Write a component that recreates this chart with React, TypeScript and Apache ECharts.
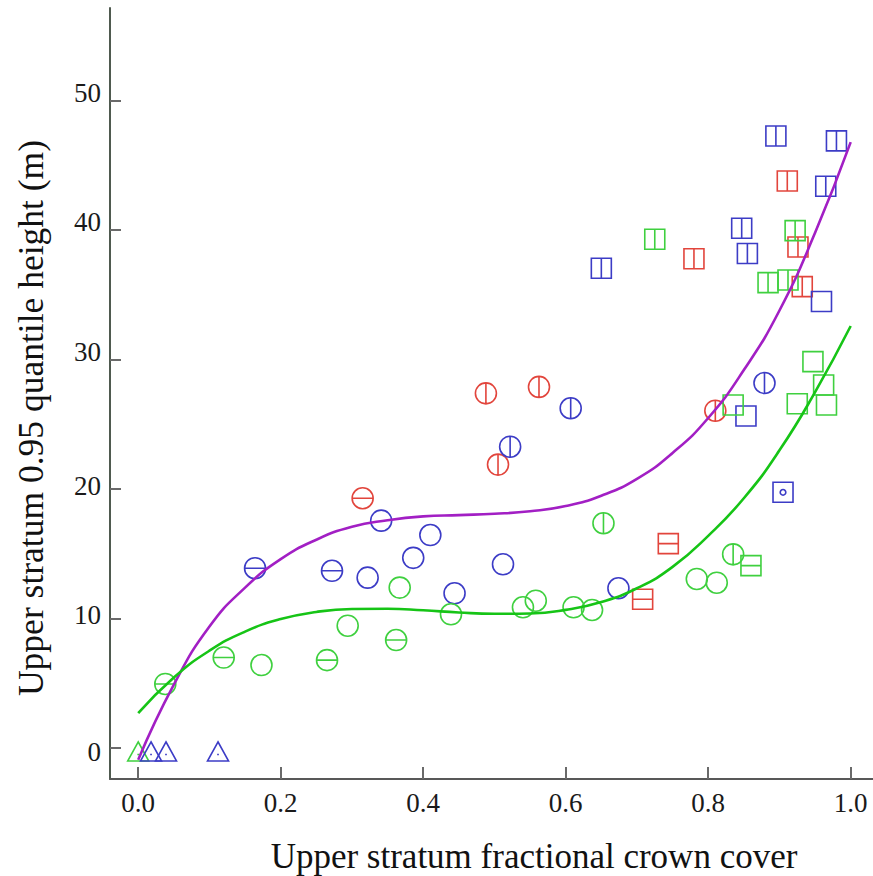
import React, { useEffect, useRef } from "react";
import * as echarts from "echarts";

// ---- tick labels ----
const xTicks = [0, 0.2, 0.4, 0.6, 0.8, 1.0];
const yTicks = [0, 10, 20, 30, 40, 50];

// ---- point data [fractional crown cover, 0.95 quantile height] ----
// circle with horizontal bar
const circHRed = [[0.315, 19.3]];
const circHBlue = [[0.164, 13.9], [0.272, 13.7]];
const circHGreen = [[0.038, 4.96], [0.12, 7.0], [0.265, 6.8], [0.362, 8.35]];
// circle with vertical bar
const circVRed = [[0.488, 27.4], [0.5625, 27.9], [0.505, 21.9], [0.81, 26.06]];
const circVBlue = [[0.607, 26.25], [0.522, 23.28], [0.879, 28.2]];
const circVGreen = [[0.653, 17.37], [0.835, 14.97]];
// plain circle
const circBlue = [[0.341, 17.57], [0.41, 16.46], [0.386, 14.7], [0.322, 13.17], [0.444, 11.96], [0.512, 14.2], [0.674, 12.35]];
const circGreen = [[0.367, 12.4], [0.439, 10.34], [0.294, 9.46], [0.173, 6.42], [0.54, 10.88], [0.558, 11.39], [0.611, 10.88], [0.637, 10.67], [0.784, 13.07], [0.812, 12.78]];
// square with vertical bar
const sqVBlue = [[0.895, 47.27], [0.98, 46.9], [0.965, 43.4], [0.847, 40.15], [0.855, 38.2], [0.65, 37.06]];
const sqVRed = [[0.911, 43.8], [0.78, 37.8], [0.926, 38.7], [0.932, 35.64]];
const sqVGreen = [[0.725, 39.3], [0.922, 39.97], [0.884, 35.95], [0.912, 36.15]];
// square with horizontal bar
const sqHRed = [[0.744, 15.8], [0.708, 11.5]];
const sqHGreen = [[0.86, 14.1]];
// plain square
const sqBlue = [[0.853, 25.65], [0.959, 34.5]];
const sqGreen = [[0.835, 26.5], [0.925, 26.6], [0.966, 26.5], [0.962, 28.05], [0.947, 29.85]];
// square with small circle
const sqDotBlue = [[0.905, 19.76]];
// triangle with dot
const triGreen = [[0.0, -0.25]];
const triBlue = [[0.018, -0.25], [0.039, -0.25], [0.112, -0.25]];

// ---- fitted curves ----
const purpleCurve = [
  [0.0, -0.9], [0.05, 4.9], [0.1, 9.4], [0.15, 12.4], [0.2, 14.6], [0.25, 16.1], [0.3, 17.1],
  [0.35, 17.6], [0.4, 17.9], [0.45, 18.0], [0.5, 18.1], [0.55, 18.3], [0.6, 18.7], [0.65, 19.5],
  [0.7, 20.8], [0.75, 22.8], [0.8, 25.5], [0.85, 29.2], [0.9, 33.8], [0.95, 39.8], [1.0, 46.8],
];
const greenCurve = [
  [0.0, 2.7], [0.05, 5.46], [0.1, 7.53], [0.15, 9.0], [0.2, 9.97], [0.25, 10.52], [0.3, 10.75],
  [0.35, 10.77], [0.4, 10.65], [0.45, 10.48], [0.5, 10.38], [0.55, 10.4], [0.6, 10.68], [0.65, 11.29],
  [0.7, 12.35], [0.75, 14.0], [0.8, 16.4], [0.85, 19.3], [0.9, 23.0], [0.95, 27.5], [1.0, 32.6],
];

const RED = "#e2453c";
const BLUE = "#3c3cc6";
const GREEN = "#3fd03f";
const PURPLE = "#a21fc4";
const CURVE_GREEN = "#16c416";

const CIRCLE = "M10,0 A10,10 0 1,1 10,20 A10,10 0 1,1 10,0 Z";
const SQUARE = "M0,0 L20,0 L20,20 L0,20 Z";
const SYM = {
  circH: "path://" + CIRCLE + " M0,10 L20,10",
  circV: "path://" + CIRCLE + " M10,0 L10,20",
  circ: "path://" + CIRCLE,
  sqV: "path://" + SQUARE + " M10,0 L10,20",
  sqH: "path://" + SQUARE + " M0,10 L20,10",
  sq: "path://" + SQUARE,
  sqDot: "path://" + SQUARE + " M10,7.2 A2.8,2.8 0 1,1 10,12.8 A2.8,2.8 0 1,1 10,7.2 Z",
  tri: "path://M10,0 L20,18 L0,18 Z M9.2,12 L10.8,12",
};

const yShift: Record<string, number> = { "0": -4, "10": 4, "20": 3, "30": 8, "40": 8, "50": 8 };

function scatter(symbol: string, color: string, data: number[][], size: number | number[]) {
  return {
    type: "scatter",
    data,
    symbol,
    symbolSize: size,
    itemStyle: { color: "rgba(0,0,0,0)", borderColor: color, borderWidth: 1.6, opacity: 1 },
    z: 2,
    silent: true,
  };
}

function curve(data: number[][], color: string) {
  return {
    type: "line",
    data,
    smooth: 0.5,
    showSymbol: false,
    symbol: "none",
    lineStyle: { color, width: 2.6 },
    z: 3,
    silent: true,
  };
}

export default function App() {
  const ref = useRef<HTMLDivElement>(null);
  useEffect(() => {
    if (!ref.current) return;
    const chart = echarts.init(ref.current, null, { renderer: "svg" });
    const rich: Record<string, any> = {};
    yTicks.forEach((v) => {
      const s = yShift[String(v)] || 0;
      rich["t" + v] = {
        fontFamily: "Liberation Serif",
        fontSize: 27,
        color: "#1a1a1a",
        padding: s >= 0 ? [0, 0, 2 * s, 0] : [-2 * s, 0, 0, 0],
      };
    });
    const font = "Liberation Serif";
    chart.setOption({
      animation: false,
      backgroundColor: "#ffffff",
      grid: { left: 110, right: 0, top: 8, bottom: 97, containLabel: false },
      xAxis: {
        type: "value",
        min: -0.0396,
        max: 1.0313,
        axisLine: { onZero: false, lineStyle: { color: "#585858", width: 2 } },
        axisTick: { inside: true, length: 12, lineStyle: { color: "#6a6a6a", width: 2 }, customValues: xTicks },
        axisLabel: {
          customValues: xTicks,
          formatter: (v: number) => v.toFixed(1),
          fontFamily: font,
          fontSize: 27,
          color: "#1a1a1a",
          margin: 10,
        },
        splitLine: { show: false },
      },
      yAxis: {
        type: "value",
        min: -2.38,
        max: 57.16,
        axisLine: { onZero: false, lineStyle: { color: "#4f5a4f", width: 2 } },
        axisTick: { inside: true, length: 11, lineStyle: { color: "#6a6a6a", width: 2 }, customValues: yTicks },
        axisLabel: {
          customValues: yTicks,
          formatter: (v: number) => `{t${v}|${v}}`,
          rich,
          margin: 9,
        },
        splitLine: { show: false },
      },
      graphic: [
        {
          type: "text",
          x: 534,
          y: 856,
          style: {
            text: "Upper stratum fractional crown cover",
            fontFamily: font,
            fontSize: 35,
            fill: "#111",
            align: "center",
            verticalAlign: "middle",
          },
        },
        {
          type: "text",
          x: 31,
          y: 418,
          rotation: Math.PI / 2,
          style: {
            text: "Upper stratum 0.95 quantile height (m)",
            fontFamily: font,
            fontSize: 35.5,
            fill: "#111",
            align: "center",
            verticalAlign: "middle",
          },
        },
      ],
      series: [
        scatter(SYM.circH, RED, circHRed, 21),
        scatter(SYM.circH, BLUE, circHBlue, 21),
        scatter(SYM.circH, GREEN, circHGreen, 21),
        scatter(SYM.circV, RED, circVRed, 21),
        scatter(SYM.circV, BLUE, circVBlue, 21),
        scatter(SYM.circV, GREEN, circVGreen, 21),
        scatter(SYM.circ, BLUE, circBlue, 21),
        scatter(SYM.circ, GREEN, circGreen, 21),
        scatter(SYM.sqV, BLUE, sqVBlue, 20),
        scatter(SYM.sqV, RED, sqVRed, 20),
        scatter(SYM.sqV, GREEN, sqVGreen, 20),
        scatter(SYM.sqH, RED, sqHRed, 20),
        scatter(SYM.sqH, GREEN, sqHGreen, 20),
        scatter(SYM.sq, BLUE, sqBlue, 20),
        scatter(SYM.sq, GREEN, sqGreen, 20),
        scatter(SYM.sqDot, BLUE, sqDotBlue, 20),
        scatter(SYM.tri, GREEN, triGreen, [21, 19]),
        scatter(SYM.tri, BLUE, triBlue, [21, 19]),
        curve(purpleCurve, PURPLE),
        curve(greenCurve, CURVE_GREEN),
      ],
    });
    return () => chart.dispose();
  }, []);
  return <div ref={ref} style={{ width: 873, height: 876, position: "absolute", left: 0, top: 0 }} />;
}
